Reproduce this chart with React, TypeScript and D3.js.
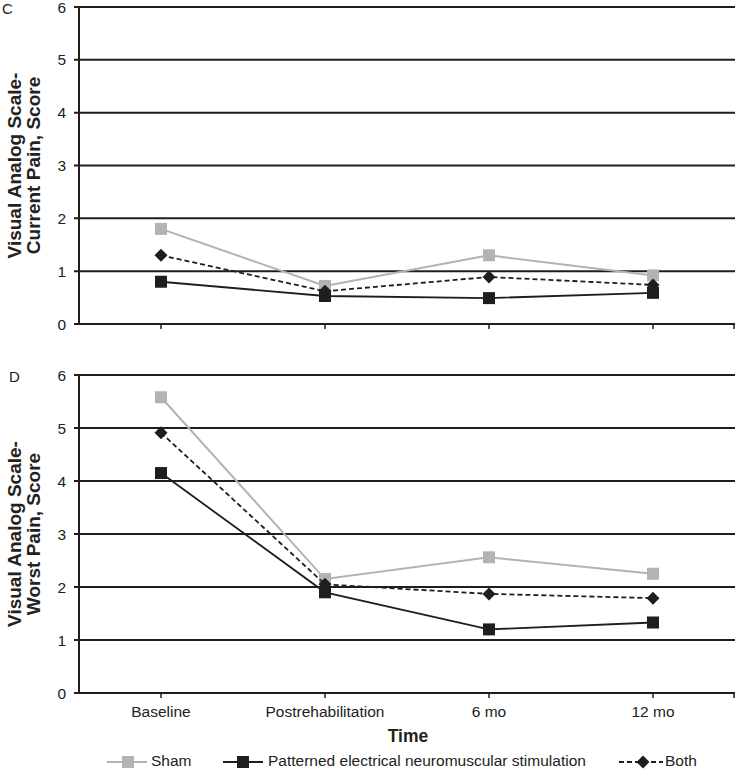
import React from "react";
import * as d3 from "d3";

const categories = ["Baseline", "Postrehabilitation", "6 mo", "12 mo"];
const yTicks = [0, 1, 2, 3, 4, 5, 6];

const currentSham = [1.8, 0.72, 1.3, 0.92];
const currentPens = [0.8, 0.53, 0.49, 0.59];
const currentBoth = [1.3, 0.62, 0.89, 0.74];

const worstSham = [5.58, 2.15, 2.56, 2.25];
const worstPens = [4.15, 1.9, 1.2, 1.33];
const worstBoth = [4.91, 2.05, 1.87, 1.79];

const seriesNames = ["Sham", "Patterned electrical neuromuscular stimulation", "Both"];

const W = 736;
const H = 769;
const left = 79;
const right = 735;
const FONT = "Liberation Sans, Arial, sans-serif";
const SHAM = "#b3b3b3";
const DARK = "#1e1e1e";

const x = d3.scalePoint<string>().domain(categories).range([left, right]).padding(0.5);

function Marker({ kind, cx, cy, color }: { kind: string; cx: number; cy: number; color: string }) {
  if (kind === "diamond") {
    const r = 6.5;
    return <path d={`M${cx},${cy - r}L${cx + r},${cy}L${cx},${cy + r}L${cx - r},${cy}Z`} fill={color} />;
  }
  const s = 12;
  return <rect x={cx - s / 2} y={cy - s / 2} width={s} height={s} fill={color} />;
}

function Panel({ top, bottom, letter, letterX, letterY, title, sham, pens, both }: any) {
  const y = d3.scaleLinear().domain([0, 6]).range([bottom, top]);
  const line = d3
    .line<number>()
    .x((_, i) => x(categories[i]) as number)
    .y((d) => y(d));
  const series = [
    { data: sham, color: SHAM, kind: "square", dash: undefined, w: 2 },
    { data: pens, color: DARK, kind: "square", dash: undefined, w: 1.8 },
    { data: both, color: DARK, kind: "diamond", dash: "5,3", w: 1.8 },
  ];
  const mid = (top + bottom) / 2;
  return (
    <g>
      <text x={letterX} y={letterY} fontSize={15} fontFamily={FONT} fill="#222">{letter}</text>
      {yTicks.map((t) => (
        <g key={t}>
          <line x1={left - 5} x2={right} y1={y(t)} y2={y(t)} stroke={DARK} strokeWidth={2} />
          <text x={66} y={y(t)} dy="0.36em" textAnchor="end" fontSize={15.5} fontFamily={FONT} fill="#222">{t}</text>
        </g>
      ))}
      <line x1={left} x2={left} y1={top} y2={bottom + 1} stroke={DARK} strokeWidth={2} />
      {categories.map((c) => (
        <line key={c} x1={x(c)} x2={x(c)} y1={bottom} y2={bottom + 5} stroke={DARK} strokeWidth={1.5} />
      ))}
      <line x1={right - 1} x2={right - 1} y1={bottom} y2={bottom + 5} stroke={DARK} strokeWidth={1.5} />
      <g transform={`translate(23,${mid}) rotate(-90)`}>
        <text textAnchor="middle" fontSize={19} fontWeight="bold" fontFamily={FONT} fill="#222">
          <tspan x={0} y={-2}>{title[0]}</tspan>
          <tspan x={0} y={17}>{title[1]}</tspan>
        </text>
      </g>
      {series.map((s, i) => (
        <g key={i}>
          <path d={line(s.data) as string} fill="none" stroke={s.color} strokeWidth={s.w} strokeDasharray={s.dash} />
          {s.data.map((v: number, j: number) => (
            <Marker key={j} kind={s.kind} cx={x(categories[j]) as number} cy={y(v)} color={s.color} />
          ))}
        </g>
      ))}
    </g>
  );
}

export default function App() {
  const legendY = 762;
  const legend = [
    { x1: 107, x2: 147, mx: 128, tx: 151, color: SHAM, kind: "square", dash: undefined },
    { x1: 223, x2: 263, mx: 243, tx: 268, color: DARK, kind: "square", dash: undefined },
    { x1: 619, x2: 663, mx: 643, tx: 665, color: DARK, kind: "diamond", dash: "5,3" },
  ];
  return (
    <svg width={W} height={H} style={{ position: "absolute", left: 0, top: 0, background: "#fff" }}>
      <rect width={W} height={H} fill="#fff" />
      <Panel top={7} bottom={324} letter="C" letterX={2} letterY={14} title={["Visual Analog Scale-", "Current Pain, Score"]}
        sham={currentSham} pens={currentPens} both={currentBoth} />
      <Panel top={375} bottom={693} letter="D" letterX={9} letterY={382} title={["Visual Analog Scale-", "Worst Pain, Score"]}
        sham={worstSham} pens={worstPens} both={worstBoth} />
      {categories.map((c) => (
        <text key={c} x={x(c)} y={717} textAnchor="middle" fontSize={15.5} fontFamily={FONT} fill="#222">{c}</text>
      ))}
      <text x={408} y={742} textAnchor="middle" fontSize={17.5} fontWeight="bold" fontFamily={FONT} fill="#222">Time</text>
      {legend.map((l, i) => (
        <g key={i}>
          <line x1={l.x1} x2={l.x2} y1={legendY} y2={legendY} stroke={l.color} strokeWidth={2} strokeDasharray={l.dash} />
          <Marker kind={l.kind} cx={l.mx} cy={legendY} color={l.color} />
          <text x={l.tx} y={765.5} fontSize={15.5} fontFamily={FONT} fill="#222">{seriesNames[i]}</text>
        </g>
      ))}
    </svg>
  );
}
